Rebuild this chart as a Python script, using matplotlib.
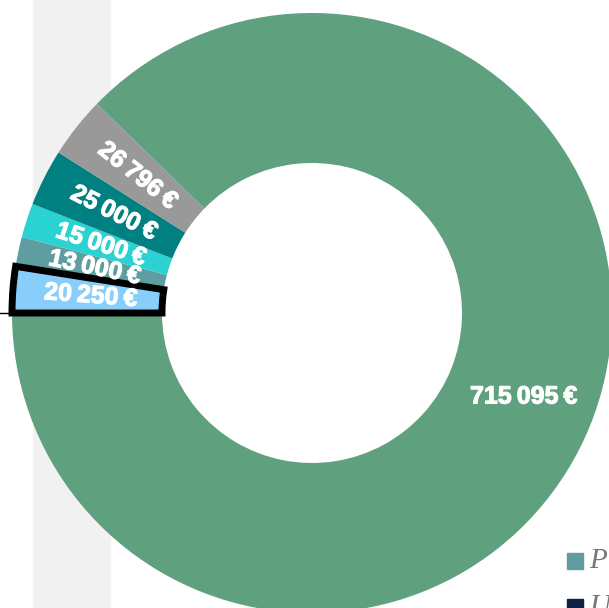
import numpy as np
import matplotlib.pyplot as plt
import matplotlib.patheffects as pe

## data
values = [20250, 13000, 15000, 25000, 26796, 715095]
colors = ['#87cefa', '#5f9ea0', '#2ad2d2', '#008080', '#999999', '#5fa07e']
legend_labels = ['P', 'U']
legend_colors = ['#5f9ea0', '#0d2240']
highlight = 0  # index of wedge with thick black border


def fmt_euro(v):
    ## narrow spaces like the original labels
    return f'{v:,}'.replace(',', '\u2009') + '\u2009€'


fig = plt.figure(figsize=(6.09, 6.08), dpi=100)
ax = fig.add_axes([0, 0, 1, 1])

wedges, _ = ax.pie(values, colors=colors, startangle=180, counterclock=False,
                   radius=1.0, wedgeprops=dict(width=0.5, linewidth=0))
wedges[highlight].set_edgecolor('black')
wedges[highlight].set_linewidth(5)
wedges[highlight].set_zorder(3)

## pixel-matched limits: centre at (312, 313) px, radius 300 px
ax.set_xlim(-312 / 300, (609 - 312) / 300)
ax.set_ylim(-(608 - 313) / 300, 313 / 300)
ax.set_aspect('auto')
ax.axis('off')

## light background band behind the chart
ax.axvspan((33 - 312) / 300, (110 - 312) / 300, color='#f1f1f1', zorder=0)
ax.plot([-1.04, -0.995], [0, 0], color='black', lw=1, zorder=4)

total = sum(values)
for w, v in zip(wedges, values):
    mid = np.deg2rad((w.theta1 + w.theta2) / 2)
    r = 0.74
    x, y = r * np.cos(mid), r * np.sin(mid)
    rot = np.rad2deg(mid) - 180 if v / total < 0.1 else 0
    ax.text(x + (0.02 if rot == 0 else 0), y, fmt_euro(v), color='white',
            fontsize=18, fontweight='bold',
            family=['Liberation Sans', 'DejaVu Sans'], rotation=rot,
            rotation_mode='anchor', ha='center', va='center', zorder=5,
            path_effects=[pe.withStroke(linewidth=0.8, foreground='white')])

## partially visible legend on the right
for i, (lab, col) in enumerate(zip(legend_labels, legend_colors)):
    yy = 1 - (561 + 46 * i) / 608
    fig.patches.append(plt.Rectangle((567 / 609, yy - 8 / 608), 16 / 609, 16 / 608,
                                     transform=fig.transFigure, color=col))
    fig.text(589 / 609, yy, lab, color='#777777', fontsize=21, style='italic',
             family='Liberation Serif', va='center', ha='left')

fig.savefig('out.png', dpi=100)
